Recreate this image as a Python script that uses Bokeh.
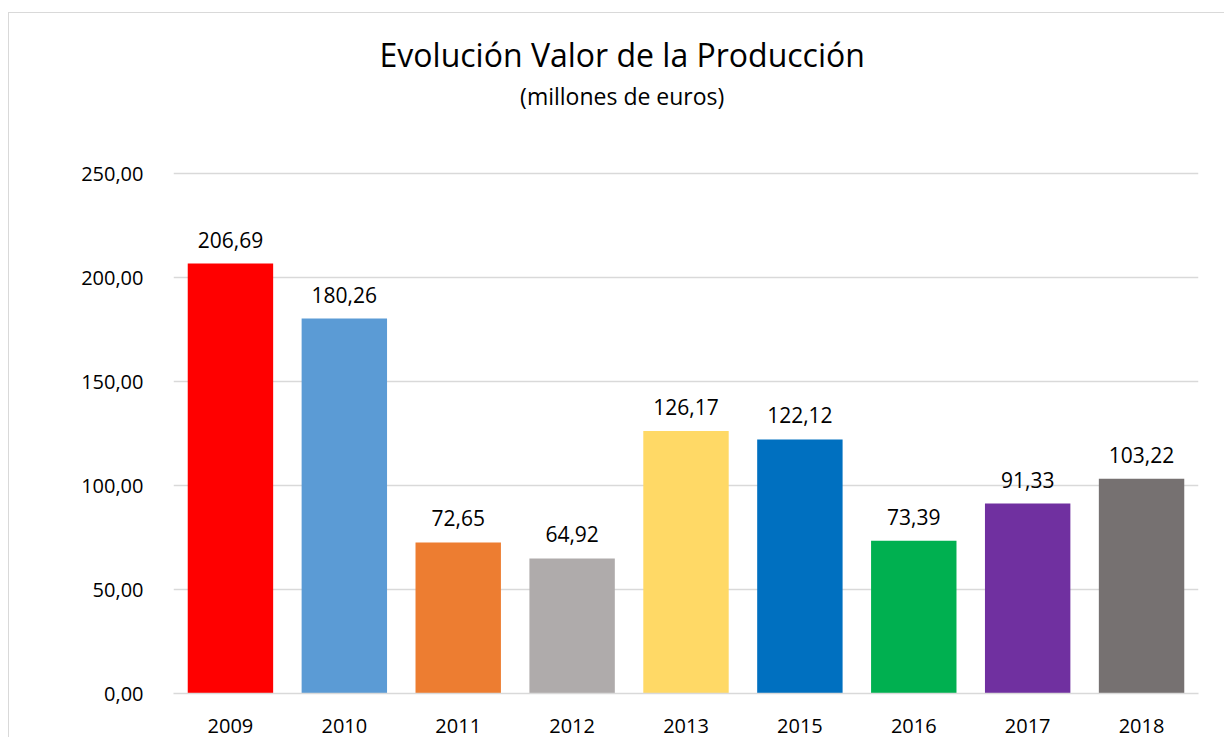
from bokeh.plotting import figure
from bokeh.models import ColumnDataSource, FixedTicker, Range1d, FactorRange
from bokeh.core.properties import value
from bokeh.embed import file_html
from bokeh.resources import INLINE

# ---- data ----
years = ["2009", "2010", "2011", "2012", "2013", "2015", "2016", "2017", "2018"]
values = [206.69, 180.26, 72.65, 64.92, 126.17, 122.12, 73.39, 91.33, 103.22]
colors = ["#FF0000", "#5B9BD5", "#ED7D31", "#AFABAB", "#FFD966",
          "#0070C0", "#00B050", "#7030A0", "#767171"]
y_ticks = [0, 50, 100, 150, 200, 250]
title_text = "Evolución Valor de la Producción"
subtitle_text = "(millones de euros)"

FONT = "Open Sans"

def fmt(v):
    return f"{v:.2f}".replace(".", ",")

src = ColumnDataSource(dict(
    year=years, val=values, color=colors, label=[fmt(v) for v in values]
))

W, H = 1216, 725
frame_bottom = 680          # px from top of canvas
px_per_unit = 2.08
y_top = frame_bottom / px_per_unit   # frame spans to canvas top

p = figure(
    width=W, height=H,
    x_range=FactorRange(*years, range_padding=0),
    y_range=Range1d(0, y_top),
    output_backend="svg", toolbar_location=None,
    min_border_left=164, min_border_right=27,
    min_border_top=0, min_border_bottom=H - frame_bottom,
)
p.title.visible = False
p.outline_line_color = None
p.background_fill_color = "white"
p.border_fill_color = "white"
p.styles = {"border-top": "1px solid #d9d9d9", "border-left": "1px solid #d9d9d9",
            "margin-left": "8px", "margin-top": "12px"}

p.vbar(x="year", top="val", width=0.75, color="color", line_color=None, source=src)

p.text(x="year", y="val", text="label", source=src,
       text_align="center", text_baseline="middle", y_offset=-24,
       text_font=value(FONT), text_font_size="21px", text_color="#000000")

# titles
cx = 3.94
p.text(x=[cx], y=[y_top - 41 / px_per_unit], text=[title_text],
       text_align="center", text_baseline="middle",
       text_font=value(FONT), text_font_size="32px", text_color="#000000")
p.text(x=[cx], y=[y_top - 82 / px_per_unit], text=[subtitle_text],
       text_align="center", text_baseline="middle",
       text_font=value(FONT), text_font_size="23px", text_color="#000000")

# y axis
p.yaxis.ticker = FixedTicker(ticks=y_ticks)
p.yaxis.major_label_overrides = {t: fmt(t) for t in y_ticks}
p.yaxis.axis_line_color = None
p.yaxis.major_tick_line_color = None
p.yaxis.minor_tick_line_color = None
p.yaxis.major_label_standoff = 24
p.yaxis.major_label_text_font = FONT
p.yaxis.major_label_text_font_size = "20px"
p.yaxis.major_label_text_color = "#000000"

# x axis
p.xaxis.axis_line_color = "#d9d9d9"
p.xaxis.axis_line_width = 1.5
p.xaxis.major_tick_line_color = None
p.xaxis.minor_tick_line_color = None
p.xaxis.major_label_standoff = 19
p.xaxis.major_label_text_font = FONT
p.xaxis.major_label_text_font_size = "20px"
p.xaxis.major_label_text_color = "#000000"

p.xgrid.grid_line_color = None
p.ygrid.ticker = FixedTicker(ticks=y_ticks)
p.ygrid.grid_line_color = "#d9d9d9"
p.ygrid.grid_line_width = 1.5

open("out.html", "w").write(file_html(p, INLINE))
